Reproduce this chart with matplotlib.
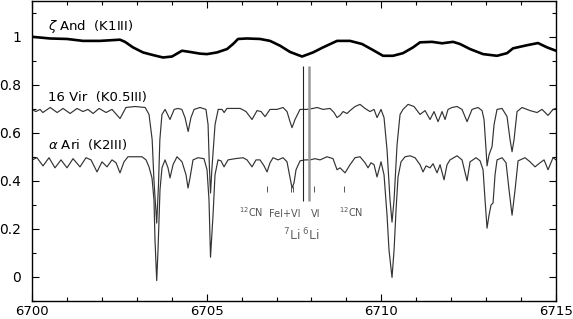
import numpy as np
import matplotlib
matplotlib.use("Agg")
import matplotlib.pyplot as plt
from matplotlib.ticker import MultipleLocator, FuncFormatter

# wavelength offsets from 6700 A and normalised flux
zeta_wl = [0.000, 0.229, 0.515, 1.002, 1.460, 1.947, 2.519, 2.662, 2.891, 3.178,
           3.464, 3.750, 4.008, 4.294, 4.523, 4.810, 5.010, 5.296, 5.583, 5.755,
           5.898, 6.155, 6.527, 6.814, 7.100, 7.386, 7.730, 8.045, 8.331, 8.732,
           9.104, 9.448, 9.734, 10.049, 10.335, 10.621, 10.908, 11.108, 11.452, 11.738,
           12.053, 12.253, 12.540, 12.912, 13.312, 13.599, 13.770, 14.171, 14.486, 14.743,
           15.000]
zeta_fl = [0.999, 0.996, 0.992, 0.990, 0.982, 0.982, 0.987, 0.978, 0.955, 0.934,
           0.923, 0.913, 0.917, 0.941, 0.936, 0.929, 0.927, 0.934, 0.948, 0.969,
           0.990, 0.992, 0.990, 0.982, 0.962, 0.936, 0.917, 0.934, 0.955, 0.982,
           0.982, 0.969, 0.946, 0.920, 0.920, 0.931, 0.955, 0.976, 0.978, 0.972,
           0.978, 0.969, 0.948, 0.927, 0.920, 0.931, 0.951, 0.964, 0.973, 0.955,
           0.941]

vir_wl = [0.00, 0.11, 0.23, 0.31, 0.52, 0.72, 0.89, 1.09, 1.29, 1.46,
          1.60, 1.75, 1.92, 2.12, 2.29, 2.52, 2.69, 2.95, 3.24, 3.35,
          3.44, 3.49, 3.57, 3.62, 3.66, 3.72, 3.81, 3.95, 4.07, 4.18,
          4.29, 4.38, 4.47, 4.55, 4.64, 4.81, 4.98, 5.04, 5.08, 5.11,
          5.15, 5.24, 5.33, 5.44, 5.50, 5.58, 5.81, 5.96, 6.127, 6.298,
          6.442, 6.556, 6.671, 6.814, 7.014, 7.186, 7.300, 7.386, 7.443, 7.529,
          7.673, 7.873, 8.045, 8.159, 8.331, 8.531, 8.646, 8.732, 8.818, 8.904,
          9.018, 9.104, 9.247, 9.390, 9.533, 9.676, 9.791, 9.877, 9.991, 10.077,
          10.163, 10.249, 10.306, 10.364, 10.450, 10.536, 10.621, 10.765, 10.936, 11.108,
          11.251, 11.394, 11.509, 11.623, 11.738, 11.824, 11.910, 12.024, 12.167, 12.310,
          12.454, 12.597, 12.768, 12.883, 12.940, 12.998, 13.026, 13.083, 13.169, 13.227,
          13.312, 13.456, 13.599, 13.685, 13.742, 13.799, 13.885, 14.028, 14.257, 14.457,
          14.600, 14.772, 14.915, 15.000]
vir_fl = [0.697, 0.688, 0.697, 0.684, 0.705, 0.684, 0.701, 0.680, 0.701, 0.688,
          0.697, 0.680, 0.701, 0.684, 0.697, 0.659, 0.705, 0.709, 0.705, 0.676,
          0.571, 0.404, 0.224, 0.380, 0.571, 0.676, 0.697, 0.655, 0.697, 0.701,
          0.697, 0.663, 0.605, 0.663, 0.697, 0.705, 0.697, 0.634, 0.450, 0.349,
          0.450, 0.634, 0.697, 0.697, 0.684, 0.701, 0.701, 0.701, 0.688, 0.655,
          0.692, 0.688, 0.667, 0.697, 0.697, 0.705, 0.688, 0.646, 0.621, 0.655,
          0.697, 0.697, 0.701, 0.705, 0.697, 0.701, 0.684, 0.663, 0.672, 0.688,
          0.680, 0.692, 0.709, 0.718, 0.701, 0.688, 0.697, 0.663, 0.697, 0.663,
          0.529, 0.320, 0.228, 0.320, 0.550, 0.676, 0.697, 0.718, 0.709, 0.676,
          0.692, 0.655, 0.688, 0.646, 0.688, 0.655, 0.697, 0.705, 0.709, 0.697,
          0.646, 0.697, 0.705, 0.692, 0.655, 0.529, 0.462, 0.508, 0.542, 0.634,
          0.697, 0.701, 0.667, 0.571, 0.521, 0.571, 0.688, 0.705, 0.692, 0.684,
          0.697, 0.672, 0.697, 0.701]

ari_wl = [0.000, 0.143, 0.315, 0.487, 0.658, 0.830, 1.002, 1.174, 1.374, 1.546,
          1.689, 1.861, 2.004, 2.147, 2.290, 2.405, 2.519, 2.634, 2.748, 2.948,
          3.149, 3.264, 3.349, 3.435, 3.492, 3.521, 3.570, 3.607, 3.664, 3.721,
          3.808, 3.893, 3.951, 4.037, 4.151, 4.294, 4.409, 4.466, 4.523, 4.609,
          4.752, 4.924, 5.010, 5.067, 5.110, 5.182, 5.239, 5.325, 5.411, 5.497,
          5.611, 5.812, 6.041, 6.155, 6.298, 6.413, 6.527, 6.642, 6.728, 6.814,
          6.900, 7.043, 7.186, 7.300, 7.386, 7.443, 7.500, 7.558, 7.673, 7.816,
          7.959, 8.102, 8.245, 8.445, 8.617, 8.732, 8.818, 8.961, 9.104, 9.247,
          9.390, 9.533, 9.619, 9.705, 9.791, 9.877, 9.991, 10.077, 10.163, 10.220,
          10.306, 10.364, 10.421, 10.478, 10.564, 10.679, 10.822, 10.965, 11.108, 11.194,
          11.280, 11.394, 11.480, 11.595, 11.681, 11.795, 11.881, 11.967, 12.167, 12.310,
          12.454, 12.540, 12.711, 12.826, 12.912, 12.969, 13.026, 13.083, 13.140, 13.198,
          13.255, 13.312, 13.456, 13.570, 13.656, 13.742, 13.828, 13.914, 14.114, 14.257,
          14.400, 14.543, 14.658, 14.772, 14.915, 15.000]
ari_fl = [0.487, 0.496, 0.462, 0.496, 0.454, 0.487, 0.454, 0.492, 0.458, 0.496,
          0.487, 0.437, 0.479, 0.458, 0.487, 0.475, 0.433, 0.479, 0.500, 0.500,
          0.500, 0.487, 0.458, 0.412, 0.320, 0.153, -0.015, 0.111, 0.362, 0.454,
          0.487, 0.454, 0.412, 0.467, 0.500, 0.479, 0.425, 0.370, 0.412, 0.487,
          0.496, 0.492, 0.446, 0.320, 0.082, 0.257, 0.425, 0.487, 0.483, 0.458,
          0.487, 0.492, 0.496, 0.487, 0.458, 0.487, 0.487, 0.462, 0.437, 0.475,
          0.496, 0.487, 0.496, 0.479, 0.412, 0.370, 0.391, 0.446, 0.483, 0.487,
          0.487, 0.492, 0.487, 0.500, 0.492, 0.446, 0.454, 0.433, 0.467, 0.496,
          0.500, 0.475, 0.454, 0.475, 0.467, 0.416, 0.479, 0.425, 0.257, 0.111,
          -0.002, 0.111, 0.278, 0.416, 0.479, 0.500, 0.504, 0.496, 0.467, 0.437,
          0.462, 0.454, 0.471, 0.433, 0.467, 0.404, 0.467, 0.487, 0.504, 0.487,
          0.400, 0.479, 0.496, 0.483, 0.446, 0.320, 0.203, 0.257, 0.299, 0.308,
          0.425, 0.487, 0.496, 0.475, 0.362, 0.257, 0.362, 0.483, 0.496, 0.479,
          0.458, 0.475, 0.487, 0.446, 0.496, 0.487]

star_labels = [r"$\zeta$ And  (K1III)", "16 Vir  (K0.5III)", r"$\alpha$ Ari  (K2III)"]
label_y = [1.028, 0.731, 0.533]

id_wl = [6706.72, 6707.41, 6707.48, 6708.07, 6708.94]
id_text = [r"$^{12}$CN", "FeI+VI", "VI", r"$^{12}$CN"]
id_text_wl = [6706.27, 6707.24, 6708.12, 6709.13]
li_wl = [6707.77, 6707.92]
li_text = [r"$^{7}$Li", r"$^{6}$Li"]
li_text_wl = [6707.19, 6707.72]

fig = plt.figure(figsize=(5.73, 3.19), dpi=100)
ax = fig.add_axes([32/573, 18/319, 524/573, 300.5/319])

ax.plot(6700 + np.array(zeta_wl), zeta_fl, color="black", lw=1.9)
ax.plot(6700 + np.array(vir_wl), vir_fl, color="#333333", lw=0.85)
ax.plot(6700 + np.array(ari_wl), ari_fl, color="#333333", lw=0.85)

for txt, y in zip(star_labels, label_y):
    ax.text(6700.47, y, txt, fontsize=9.5, va="baseline", ha="left")

# line identifications
ax.vlines(id_wl, 0.355, 0.38, color="#555555", lw=0.7)
for txt, w in zip(id_text, id_text_wl):
    ax.text(w, 0.25, txt, fontsize=7, color="#555555", ha="center", va="baseline")

ax.vlines(li_wl[0], 0.315, 0.878, color="#222222", lw=0.8)
ax.vlines(li_wl[1], 0.315, 0.878, color="#999999", lw=1.8)
for txt, w in zip(li_text, li_text_wl):
    ax.text(w, 0.153, txt, fontsize=9, color="#666666", ha="left", va="baseline")

ax.set_xlim(6700, 6715)
ax.set_ylim(-0.1, 1.15)
ax.xaxis.set_major_locator(MultipleLocator(5))
ax.xaxis.set_minor_locator(MultipleLocator(1))
ax.yaxis.set_major_locator(MultipleLocator(0.2))
ax.yaxis.set_minor_locator(MultipleLocator(0.1))
ax.yaxis.set_major_formatter(FuncFormatter(lambda v, p: "%g" % round(v, 2)))
ax.tick_params(which="both", direction="in", top=True, right=True, labelsize=10)
ax.tick_params(which="major", length=5, width=0.8)
ax.tick_params(which="minor", length=3, width=0.8)
ax.tick_params(axis="y", pad=8)
ax.tick_params(axis="x", pad=3, labelsize=9.5)
for s in ax.spines.values():
    s.set_linewidth(1.0)

fig.savefig("out.png", dpi=100)
